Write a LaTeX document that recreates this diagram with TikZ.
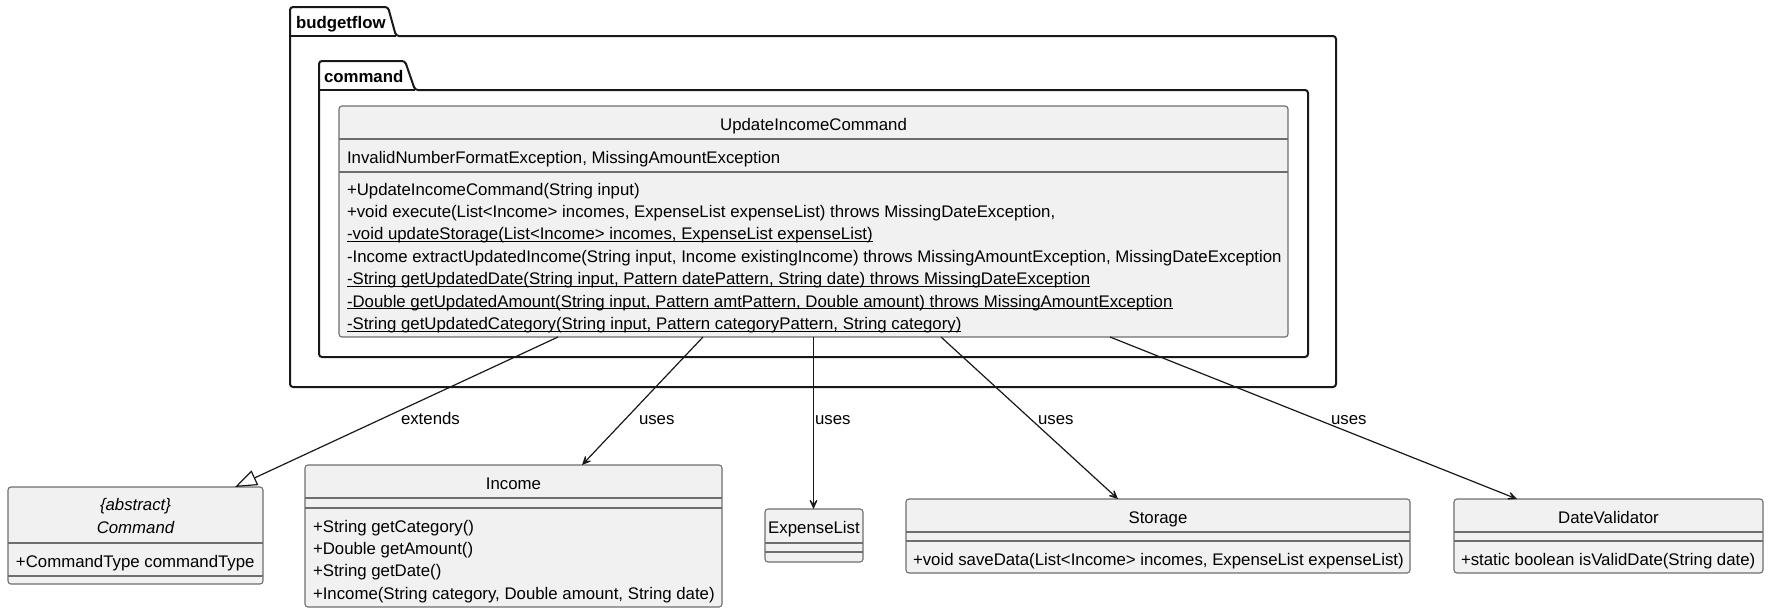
\documentclass[tikz,border=0pt]{standalone}
\usepackage{fontspec}
\setmainfont{Liberation Sans}
\usetikzlibrary{arrows.meta}
\definecolor{clsfill}{HTML}{F1F1F1}
\definecolor{clsline}{HTML}{6E6E6E}
\definecolor{ink}{HTML}{181818}
\begin{document}
\begin{tikzpicture}[x=1pt,y=-1pt,
  every node/.style={inner sep=0pt, outer sep=0pt},
  txt/.style={font=\fontsize{16.8}{20}\selectfont, anchor=base west, text=black},
  ctxt/.style={font=\fontsize{16.8}{20}\selectfont, anchor=base, text=black},
  itxt/.style={font=\fontsize{16.8}{20}\selectfont\itshape, anchor=base, text=black},
  cls/.style={draw=clsline, fill=clsfill, line width=1.1pt, rounded corners=3pt},
  sepline/.style={draw=clsline, line width=1.1pt},
  pkg/.style={draw=ink, line width=2pt, rounded corners=3pt},
  pkglbl/.style={font=\fontsize{16.8}{20}\selectfont\bfseries, anchor=base west, text=black},
  uses/.style={draw=ink, line width=1.2pt, -{Stealth[length=14pt,width=13pt,inset=9pt]}},
  ext/.style={draw=ink, line width=1.2pt, -{Triangle[open,length=22pt,width=16pt]}},
  lbl/.style={font=\fontsize{16.8}{20}\selectfont, anchor=base west, text=black},
  ulline/.style={draw=black, line width=1pt}
]
\useasboundingbox (0,0) rectangle (1770,614);

% packages
\draw[pkg] (290,387) -- (290,7) -- (388,7) -- (396,36) -- (1336,36) -- (1336,387) -- cycle;
\draw[pkg] (290,36) -- (396,36);
\node[pkglbl] (pbudget) at (296,28) {budgetflow};
\draw[pkg] (319,357) -- (319,61) -- (405,61) -- (415,90) -- (1308,90) -- (1308,357) -- cycle;
\draw[pkg] (319,90) -- (415,90);
\node[pkglbl] (pcommand) at (324,82) {command};

% UpdateIncomeCommand
\node[cls, minimum width=949pt, minimum height=231pt] (uic) at (813.5,221.5) {};
\node[ctxt] (uict) at (813.5,130) {UpdateIncomeCommand};
\draw[sepline] (uic.west |- 0,139) -- (uic.east |- 0,139);
\node[txt] (uica) at (347,163) {InvalidNumberFormatException, MissingAmountException};
\draw[sepline] (uic.west |- 0,172) -- (uic.east |- 0,172);
\node[txt] (m1) at (347,195) {+UpdateIncomeCommand(String input)};
\node[txt] (m2) at (347,217.4) {+void execute(List<Income> incomes, ExpenseList expenseList) throws MissingDateException,};
\node[txt] (m3) at (347,239.8) {-void updateStorage(List<Income> incomes, ExpenseList expenseList)};
\node[txt] (m4) at (347,262.2) {-Income extractUpdatedIncome(String input, Income existingIncome) throws MissingAmountException, MissingDateException};
\node[txt] (m5) at (347,284.6) {-String getUpdatedDate(String input, Pattern datePattern, String date) throws MissingDateException};
\node[txt] (m6) at (347,307) {-Double getUpdatedAmount(String input, Pattern amtPattern, Double amount) throws MissingAmountException};
\node[txt] (m7) at (347,329.4) {-String getUpdatedCategory(String input, Pattern categoryPattern, String category)};
\foreach \m in {m3,m5,m6,m7}{
  \draw[ulline] ([yshift=-1.6pt]\m.base west) -- ([yshift=-1.6pt]\m.base east);
}

% Command
\node[cls, minimum width=255pt, minimum height=97pt] (cmd) at (135.5,535.5) {};
\node[itxt] (cmds) at (135.5,510) {\{abstract\}};
\node[itxt] (cmdt) at (135.5,533) {Command};
\draw[sepline] (cmd.west |- 0,543) -- (cmd.east |- 0,543);
\node[txt] (cmda) at (16,567) {+CommandType commandType};
\draw[sepline] (cmd.west |- 0,576) -- (cmd.east |- 0,576);

% Income
\node[cls, minimum width=417pt, minimum height=142pt] (income) at (513.5,536) {};
\node[ctxt] (inct) at (513.5,489) {Income};
\draw[sepline] (income.west |- 0,498) -- (income.east |- 0,498);
\draw[sepline] (income.west |- 0,508) -- (income.east |- 0,508);
\node[txt] (i1) at (313,532) {+String getCategory()};
\node[txt] (i2) at (313,554.4) {+Double getAmount()};
\node[txt] (i3) at (313,576.8) {+String getDate()};
\node[txt] (i4) at (313,599.2) {+Income(String category, Double amount, String date)};

% ExpenseList
\node[cls, minimum width=98pt, minimum height=53pt] (exp) at (814,535.5) {};
\node[ctxt] (expt) at (814,533) {ExpenseList};
\draw[sepline] (exp.west |- 0,543) -- (exp.east |- 0,543);
\draw[sepline] (exp.west |- 0,552) -- (exp.east |- 0,552);

% Storage
\node[cls, minimum width=504pt, minimum height=74pt] (storage) at (1158,536) {};
\node[ctxt] (stt) at (1158,523) {Storage};
\draw[sepline] (storage.west |- 0,532) -- (storage.east |- 0,532);
\draw[sepline] (storage.west |- 0,541) -- (storage.east |- 0,541);
\node[txt] (st1) at (913,565) {+void saveData(List<Income> incomes, ExpenseList expenseList)};

% DateValidator
\node[cls, minimum width=309pt, minimum height=74pt] (dv) at (1608.5,536) {};
\node[ctxt] (dvt) at (1608.5,523) {DateValidator};
\draw[sepline] (dv.west |- 0,532) -- (dv.east |- 0,532);
\draw[sepline] (dv.west |- 0,541) -- (dv.east |- 0,541);
\node[txt] (dv1) at (1461,565) {+static boolean isValidDate(String date)};

% connectors
\draw[ext] (558,0 |- uic.south) -- (235,0 |- cmd.north);
\draw[uses] (703,0 |- uic.south) -- (582,0 |- income.north);
\draw[uses] (813.5,0 |- uic.south) -- (813.5,0 |- exp.north);
\draw[uses] (941,0 |- uic.south) -- (1118,0 |- storage.north);
\draw[uses] (1110,0 |- uic.south) -- (1517,0 |- dv.north);

% labels
\node[lbl] (lext) at (401,424) {extends};
\node[lbl] (lu1) at (639,424) {uses};
\node[lbl] (lu2) at (815,424) {uses};
\node[lbl] (lu3) at (1038,424) {uses};
\node[lbl] (lu4) at (1331,424) {uses};
\end{tikzpicture}
\end{document}
